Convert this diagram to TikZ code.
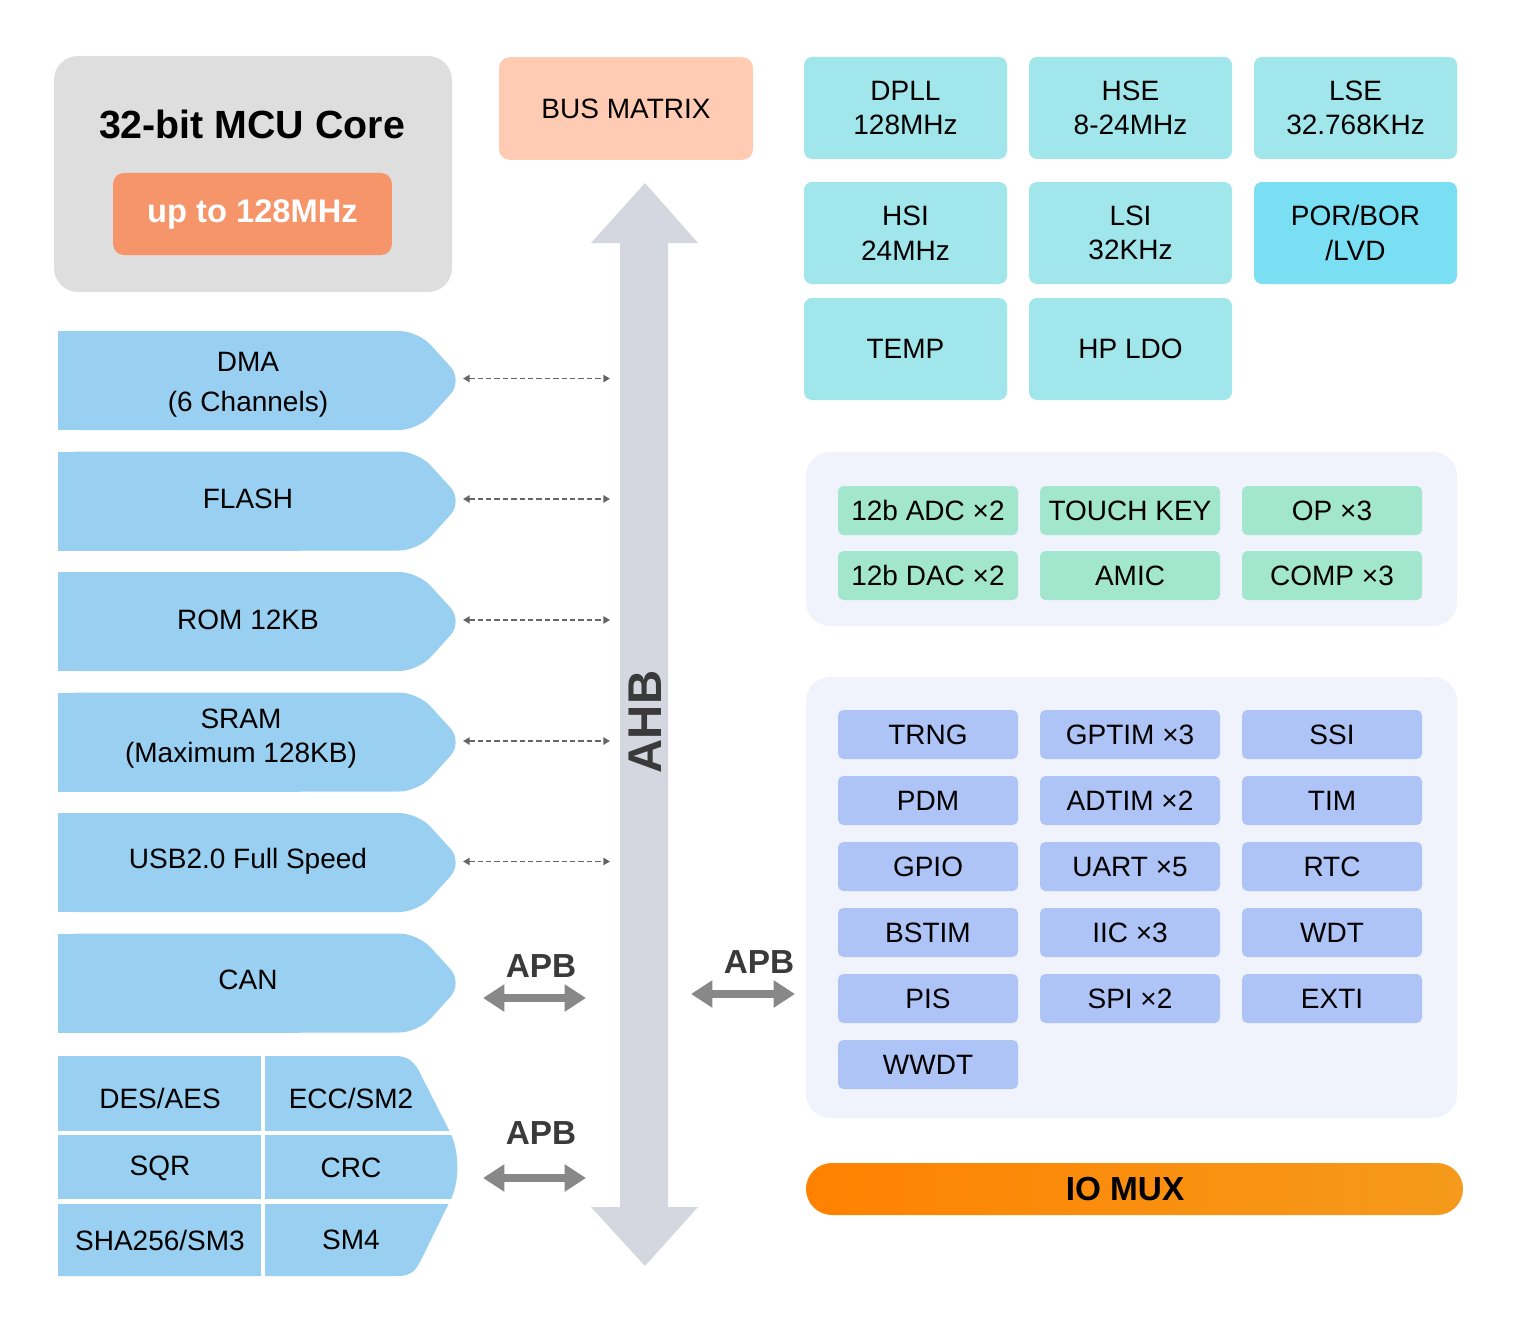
\documentclass[tikz,border=0pt]{standalone}
\usepackage{fontspec}
\setmainfont{Liberation Sans}
\usetikzlibrary{arrows.meta}
\definecolor{coregray}{HTML}{DEDEDE}
\definecolor{coreorange}{HTML}{F6956A}
\definecolor{busmx}{HTML}{FFCBB3}
\definecolor{ahbgray}{HTML}{D5D7E0}
\definecolor{lblue}{HTML}{99CFF0}
\definecolor{clkteal}{HTML}{A1E6EA}
\definecolor{porcyan}{HTML}{7BDFF3}
\definecolor{panelbg}{HTML}{F0F3FC}
\definecolor{mint}{HTML}{A3E6CE}
\definecolor{peri}{HTML}{AEC3F6}
\definecolor{ioA}{HTML}{FF8200}
\definecolor{ioB}{HTML}{F59A1C}
\definecolor{darktxt}{HTML}{3A3A3A}
\definecolor{arrgray}{HTML}{888888}
\definecolor{dashgray}{HTML}{666666}
\tikzset{
  txt/.style={font=\fontsize{21}{26}\selectfont, align=center, inner sep=0pt},
  clkbox/.style={txt, fill=clkteal, rounded corners=6pt, minimum width=152.25pt, minimum height=76.5pt},
  anabox/.style={txt, fill=mint, rounded corners=4pt, minimum width=135pt, minimum height=36.75pt},
  digbox/.style={txt, fill=peri, rounded corners=4pt, minimum width=135pt, minimum height=36.75pt},
  dasharr/.style={draw=dashgray, line width=1.2pt, dash pattern=on 4pt off 2.3pt, {Triangle[length=5pt,width=5.5pt]}-{Triangle[length=5pt,width=5.5pt]}},
  apbarr/.style={draw=arrgray, line width=6pt, {Triangle[length=16pt,width=19.5pt]}-{Triangle[length=16pt,width=19.5pt]}},
  apblbl/.style={font=\bfseries\fontsize{25}{30}\selectfont, text=darktxt, inner sep=0pt},
}
\begin{document}
\begin{tikzpicture}[x=0.75pt,y=-0.75pt]
\useasboundingbox (0,0) rectangle (1523,1327);

% ---- core ----
\fill[coregray, rounded corners=18pt] (54,56) rectangle (452,292);
\node[inner sep=0pt, font=\bfseries\fontsize{29.5}{34}\selectfont] (coretitle) at (252,124) {32-bit MCU Core};
\node[fill=coreorange, rounded corners=8pt, minimum width=209pt, minimum height=61.5pt, inner sep=0pt,
      text=white, font=\bfseries\fontsize{24.5}{28}\selectfont] (corefreq) at (252.5,214) {up to 128MHz};

% ---- bus matrix ----
\node[txt, fill=busmx, rounded corners=8pt, minimum width=190.5pt, minimum height=77pt] (busmatrix) at (626,108.5) {BUS MATRIX};

% ---- AHB arrow ----
\fill[ahbgray] (620,243) -- (591,243) -- (645,183) -- (698,243) -- (668,243) -- (668,1207)
  -- (698,1207) -- (645,1266) -- (591,1207) -- (620,1207) -- cycle;
\node[rotate=90, inner sep=0pt, text=darktxt, font=\bfseries\fontsize{35.5}{40}\selectfont] (ahb) at (645,722) {AHB};

% ---- left pentagons ----
\foreach \t in {331,451.5,572,692.5,813,933.5}{
  \fill[lblue, rounded corners=14pt] (58,\t) -- (418,\t) -- (463,\t+49.5) -- (418,\t+99) -- (58,\t+99) -- cycle;
  \fill[lblue] (58,\t) rectangle (300,\t+99);
}
\node[txt] (dma) at (248,362) {DMA};
\node[txt] (dmach) at (248,404) {(6 Channels)};
\node[txt] (flash) at (248,499) {FLASH};
\node[txt] (rom) at (248,620) {ROM 12KB};
\node[txt, font=\fontsize{21}{26}\selectfont] (sram) at (241,738.5) {SRAM\\(Maximum 128KB)};
\node[txt] (usb) at (248,861) {USB2.0 Full Speed};
\node[txt] (can) at (248,980) {CAN};

% ---- dashed connectors ----
\foreach \n/\y in {dma/378.5,flash/499,rom/620,sram/741,usb/861.5}{
  \coordinate (\n L) at (463,\y);
  \coordinate (\n R) at (610,\y);
  \draw[dasharr] (\n L) -- (\n R);
}

% ---- crypto block ----
\fill[lblue] (58,1056) -- (396,1056) .. controls (408,1056) and (414,1062) .. (419,1071) -- (450,1132)
   .. controls (460,1152) and (460,1184) .. (449,1203) -- (420,1262)
   .. controls (415,1272) and (409,1276) .. (398,1276) -- (58,1276) -- cycle;
\fill[white] (260.5,1050) rectangle (265,1282);
\fill[white] (50,1130.5) rectangle (470,1135);
\fill[white] (50,1199) rectangle (470,1203.5);
\node[txt] (desaes) at (160,1098) {DES/AES};
\node[txt] (eccsm2) at (351,1098) {ECC/SM2};
\node[txt] (sqr) at (160,1168) {SQR};
\node[txt] (crc) at (351,1168) {CRC};
\node[txt] (sha) at (160,1240) {SHA256/SM3};
\node[txt] (smfour) at (351,1240) {SM4};

% ---- APB arrows ----
\node[apblbl] (apbA) at (541,966) {APB};
\coordinate (apbAl) at (483,998); \coordinate (apbAr) at (586,998);
\draw[apbarr] (apbAl) -- (apbAr);
\node[apblbl] (apbB) at (541,1133) {APB};
\coordinate (apbBl) at (483,1178); \coordinate (apbBr) at (586,1178);
\draw[apbarr] (apbBl) -- (apbBr);
\node[apblbl] (apbC) at (759,962) {APB};
\coordinate (apbCl) at (691,994); \coordinate (apbCr) at (795,994);
\draw[apbarr] (apbCl) -- (apbCr);

% ---- clocks ----
\node[clkbox] (dpll) at (905.5,108) {DPLL\\128MHz};
\node[clkbox] (hse) at (1130.5,108) {HSE\\8-24MHz};
\node[clkbox] (lse) at (1355.5,108) {LSE\\32.768KHz};
\node[clkbox] (hsi) at (905.5,233) {HSI\\24MHz};
\node[clkbox] (lsi) at (1130.5,233) {LSI\\32KHz};
\node[clkbox, fill=porcyan] (por) at (1355.5,233) {POR/BOR\\/LVD};
\node[clkbox] (temp) at (905.5,349) {TEMP};
\node[clkbox] (hpldo) at (1130.5,349) {HP LDO};

% ---- analog panel ----
\fill[panelbg, rounded corners=18pt] (806,452) rectangle (1457,626);
\node[anabox] (adc) at (928,510.5) {12b ADC ×2};
\node[anabox] (touch) at (1130,510.5) {TOUCH KEY};
\node[anabox] (op) at (1332,510.5) {OP ×3};
\node[anabox] (dac) at (928,575.5) {12b DAC ×2};
\node[anabox] (amic) at (1130,575.5) {AMIC};
\node[anabox] (comp) at (1332,575.5) {COMP ×3};

% ---- digital panel ----
\fill[panelbg, rounded corners=18pt] (806,677) rectangle (1457,1118);
\node[digbox] (trng) at (928,734.5) {TRNG};
\node[digbox] (gptim) at (1130,734.5) {GPTIM ×3};
\node[digbox] (ssi) at (1332,734.5) {SSI};
\node[digbox] (pdm) at (928,800.5) {PDM};
\node[digbox] (adtim) at (1130,800.5) {ADTIM ×2};
\node[digbox] (tim) at (1332,800.5) {TIM};
\node[digbox] (gpio) at (928,866.5) {GPIO};
\node[digbox] (uart) at (1130,866.5) {UART ×5};
\node[digbox] (rtc) at (1332,866.5) {RTC};
\node[digbox] (bstim) at (928,932.5) {BSTIM};
\node[digbox] (iic) at (1130,932.5) {IIC ×3};
\node[digbox] (wdt) at (1332,932.5) {WDT};
\node[digbox] (pis) at (928,998.5) {PIS};
\node[digbox] (spi) at (1130,998.5) {SPI ×2};
\node[digbox] (exti) at (1332,998.5) {EXTI};
\node[digbox] (wwdt) at (928,1064.5) {WWDT};

% ---- IO MUX ----
\shade[left color=ioA, middle color=ioA, right color=ioB, rounded corners=19.5pt] (806,1163) rectangle (1463,1215);
\node[inner sep=0pt, font=\bfseries\fontsize{25}{30}\selectfont] (iomux) at (1125,1189) {IO MUX};
\end{tikzpicture}
\end{document}
